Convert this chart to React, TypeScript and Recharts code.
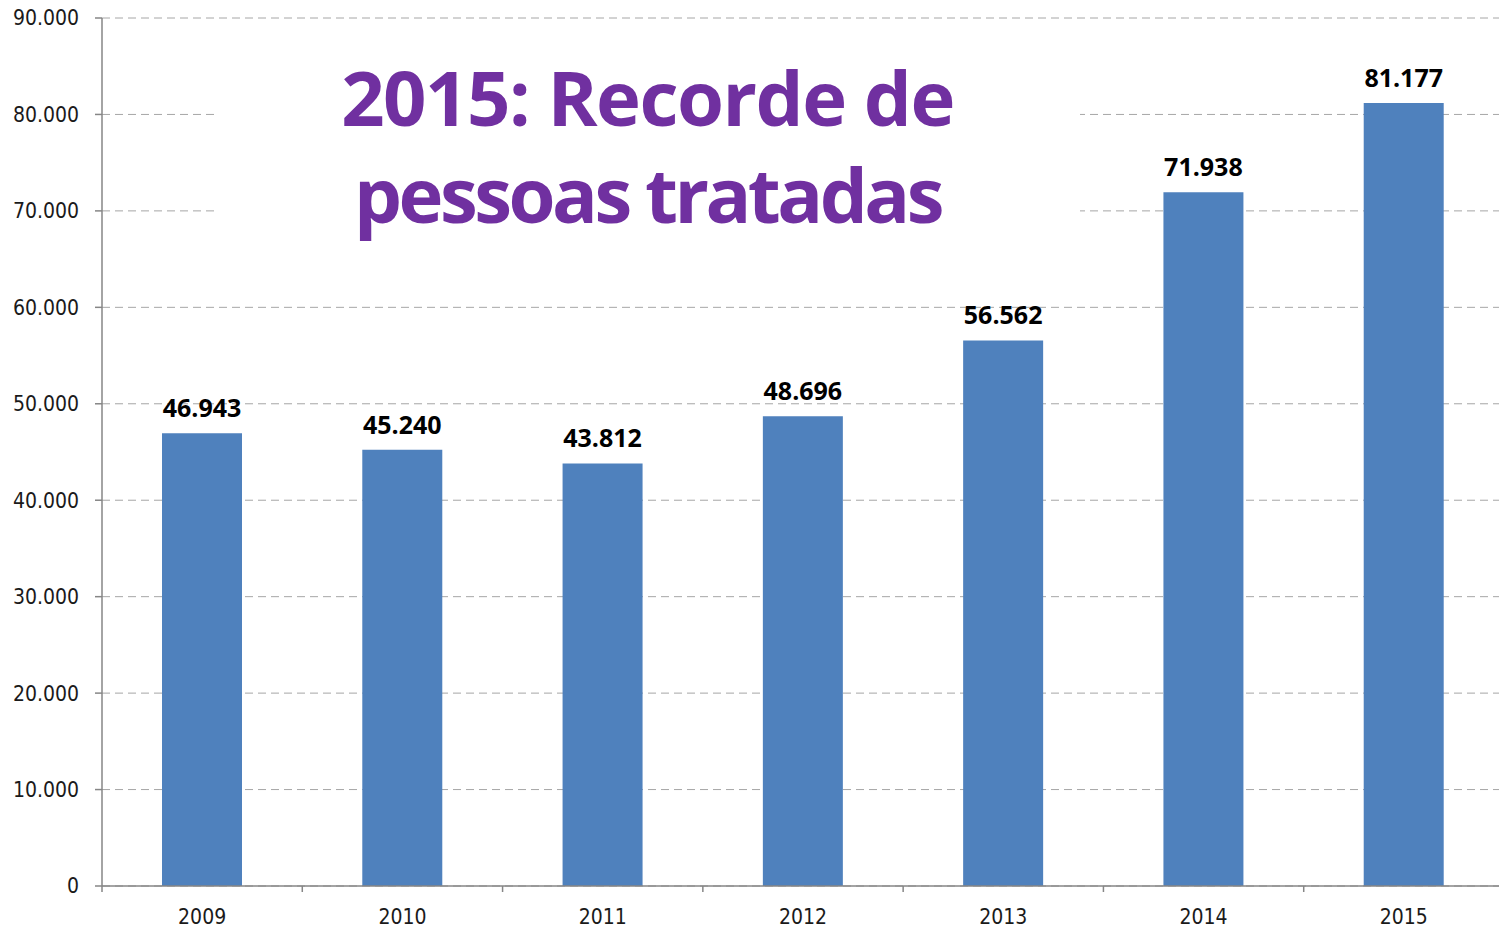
import React from 'react';
import {
    BarChart,
    Bar,
    XAxis,
    YAxis,
    CartesianGrid,
    LabelList,
} from 'recharts';

const years = ['2009', '2010', '2011', '2012', '2013', '2014', '2015'];
const treated = [46943, 45240, 43812, 48696, 56562, 71938, 81177];
const yTicks = [0, 10000, 20000, 30000, 40000, 50000, 60000, 70000, 80000, 90000];
const titleLines = ['2015: Recorde de', 'pessoas tratadas'];

const data = years.map((year, i) => ({ year, value: treated[i] }));

const fmt = (v: any) => String(v).replace(/\B(?=(\d{3})+(?!\d))/g, '.');

const axisFont = '"DejaVu Sans Condensed", "Liberation Sans", sans-serif';
const axisColor = '#868686';
const X_TICK_SIZE = 6;
const X_TICK_MARGIN = 17;

// category label plus an Excel-style tick mark on the band's left edge
const YearTick = (props: any) => {
    const { x, y, payload } = props;
    const axisY = y - X_TICK_SIZE - X_TICK_MARGIN;
    const edgeX = x - (payload.offset || 0);
    return (
        <g>
            <line x1={edgeX} x2={edgeX} y1={axisY} y2={axisY + X_TICK_SIZE} stroke={axisColor} strokeWidth={1.5} />
            <text
                x={x}
                y={y}
                dy='0.71em'
                textAnchor='middle'
                fill='#1a1a1a'
                fontSize={21}
                fontFamily={axisFont}
            >
                {payload.value}
            </text>
        </g>
    );
};

const App: React.FC = () => {
    return (
        <div style={{ position: 'absolute', left: 0, top: 0, width: 1499, height: 929, overflow: 'hidden', background: '#fff' }}>
            <BarChart
                width={1510}
                height={929}
                data={data}
                margin={{ top: 18, right: 6, left: 0, bottom: 0 }}
            >
                <CartesianGrid vertical={false} stroke='#a6a6a6' strokeDasharray='8 5' />
                <XAxis
                    dataKey='year'
                    height={43}
                    tickLine={false}
                    tickSize={X_TICK_SIZE}
                    tickMargin={X_TICK_MARGIN}
                    axisLine={{ stroke: axisColor, strokeWidth: 1.5 }}
                    tick={<YearTick />}
                />
                <YAxis
                    width={102}
                    domain={[0, 90000]}
                    ticks={yTicks}
                    tickFormatter={fmt}
                    tickSize={7}
                    tickMargin={16}
                    axisLine={{ stroke: axisColor, strokeWidth: 1.5 }}
                    tickLine={{ stroke: axisColor, strokeWidth: 1.5 }}
                    tick={{ fill: '#1a1a1a', fontSize: 21, fontFamily: axisFont }}
                />
                <Bar dataKey='value' fill='#4f81bd' barSize={80} isAnimationActive={false}>
                    <LabelList
                        dataKey='value'
                        position='top'
                        offset={16}
                        formatter={fmt}
                        fill='#000'
                        fontSize={25}
                        fontWeight='bold'
                        fontFamily='"Open Sans", sans-serif'
                    />
                </Bar>
            </BarChart>
            <div
                style={{
                    position: 'absolute',
                    left: 215,
                    top: 48,
                    width: 865,
                    height: 207,
                    background: '#fff',
                    color: '#7030a0',
                    fontFamily: '"Open Sans", sans-serif',
                    fontWeight: 'bold',
                    fontSize: 76,
                    lineHeight: '97px',
                    textAlign: 'center',
                }}
            >
                {titleLines.map((t, i) => (
                    <div key={t} style={{ letterSpacing: i === 0 ? -1.5 : -3.5 }}>{t}</div>
                ))}
            </div>
        </div>
    );
};

export default App;
